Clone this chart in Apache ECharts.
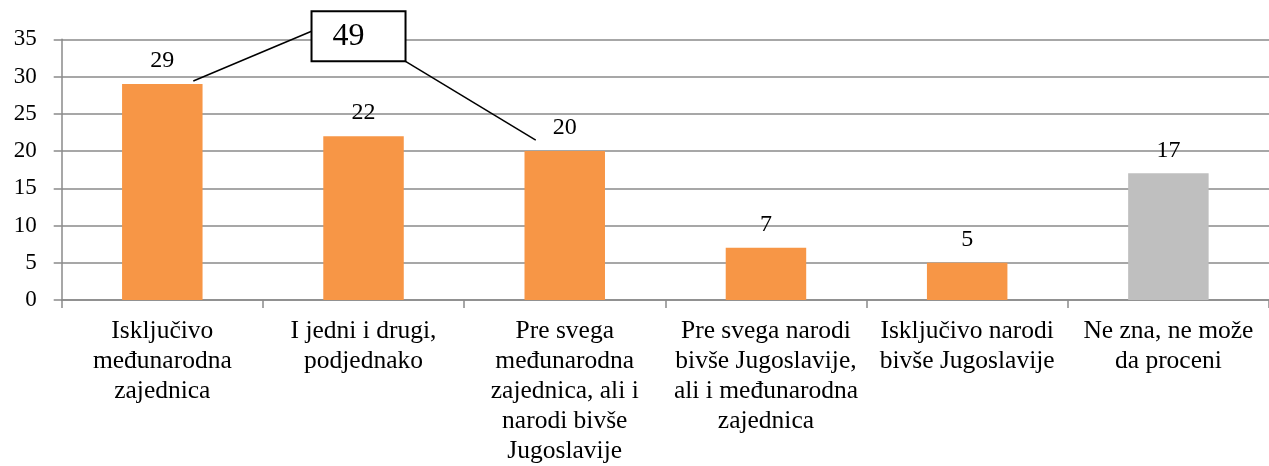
<!DOCTYPE html>
<html lang="sr">
<head>
    <meta charset="UTF-8">
    <title>Chart</title>
    <style>
        html, body { margin: 0; padding: 0; background: #fff; }
    </style>
</head>
<body>
<div id="main" style="width: 1269px;height:466px;"></div>
<script src="https://cdn.jsdelivr.net/npm/echarts@6/dist/echarts.min.js"></script>
<script>
    // data
    var categories = [
        'Isključivo\nmeđunarodna\nzajednica',
        'I jedni i drugi,\npodjednako',
        'Pre svega\nmeđunarodna\nzajednica, ali i\nnarodi bivše\nJugoslavije',
        'Pre svega narodi\nbivše Jugoslavije,\nali i međunarodna\nzajednica',
        'Isključivo narodi\nbivše Jugoslavije',
        'Ne zna, ne može\nda proceni'
    ];
    var values = [29, 22, 20, 7, 5, 17];
    var barColors = ['#F79646', '#F79646', '#F79646', '#F79646', '#F79646', '#BFBFBF'];
    var yMin = 0, yMax = 35, yStep = 5;
    // callout: sum of the first and third bar
    var calloutText = '49';
    var calloutLinks = [0, 2];

    var serif = 'Liberation Serif';
    var gridColor = '#8a8a8a';

    var myChart = echarts.init(document.getElementById('main'));
    var option = {
        backgroundColor: '#ffffff',
        animation: false,
        grid: {
            left: 61.7,
            top: 39.3,
            right: -12.6,
            bottom: 160.7,
            containLabel: false
        },
        xAxis: {
            type: 'category',
            data: categories,
            axisLine: {lineStyle: {color: gridColor, width: 1.5}},
            axisTick: {show: true, length: 8, lineStyle: {color: gridColor, width: 1.5}},
            axisLabel: {
                interval: 0,
                margin: 16,
                color: '#000',
                fontFamily: serif,
                fontSize: 25.5,
                lineHeight: 30
            }
        },
        yAxis: {
            type: 'value',
            min: yMin,
            max: yMax,
            interval: yStep,
            axisLine: {show: true, lineStyle: {color: gridColor, width: 1.5}},
            axisTick: {show: true, length: 8, lineStyle: {color: gridColor, width: 1.5}},
            splitLine: {lineStyle: {color: gridColor, width: 1.5}},
            axisLabel: {
                margin: 25,
                color: '#000',
                fontFamily: serif,
                fontSize: 23
            }
        },
        series: [{
            type: 'bar',
            barWidth: '40%',
            data: values.map(function (v, i) {
                return {value: v, itemStyle: {color: barColors[i]}};
            }),
            label: {
                show: true,
                position: 'top',
                distance: 11,
                color: '#000',
                fontFamily: serif,
                fontSize: 24
            }
        }]
    };
    myChart.setOption(option);

    // callout box linked to two bars
    var anchor = myChart.convertToPixel({seriesIndex: 0}, [1, yMax]);
    var boxX = anchor[0] - 52, boxY = anchor[1] - 28, boxW = 94, boxH = 50;
    var p1 = myChart.convertToPixel({seriesIndex: 0}, [calloutLinks[0], values[calloutLinks[0]]]);
    var p3 = myChart.convertToPixel({seriesIndex: 0}, [calloutLinks[1], values[calloutLinks[1]]]);
    myChart.setOption({
        graphic: [
            {
                type: 'line',
                shape: {x1: boxX, y1: boxY + 20, x2: p1[0] + 31, y2: p1[1] - 3},
                style: {stroke: '#000', lineWidth: 1.5}
            },
            {
                type: 'line',
                shape: {x1: boxX + boxW, y1: boxY + boxH, x2: p3[0] - 29, y2: p3[1] - 11},
                style: {stroke: '#000', lineWidth: 1.5}
            },
            {
                type: 'rect',
                shape: {x: boxX, y: boxY, width: boxW, height: boxH},
                style: {fill: '#fff', stroke: '#000', lineWidth: 2}
            },
            {
                type: 'text',
                x: boxX + 21,
                y: boxY + boxH / 2,
                style: {
                    text: calloutText,
                    fill: '#000',
                    font: '32px "Liberation Serif"',
                    verticalAlign: 'middle'
                }
            }
        ]
    });
</script>
</body>
</html>
